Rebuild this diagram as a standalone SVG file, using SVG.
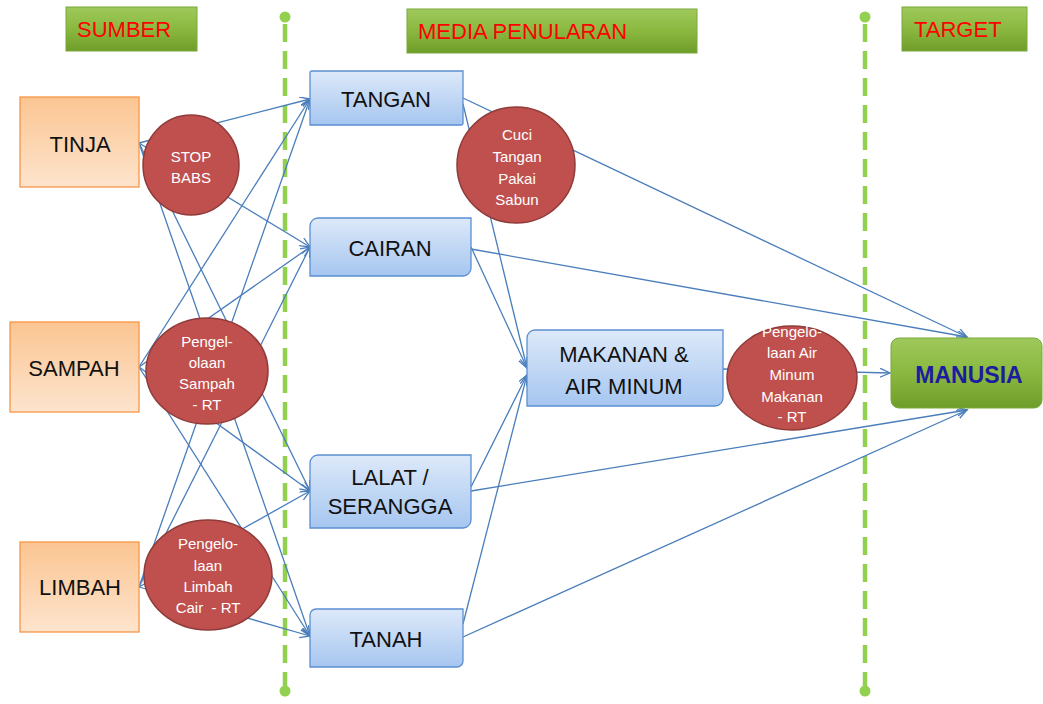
<svg xmlns="http://www.w3.org/2000/svg" width="1043" height="704" viewBox="0 0 1043 704">
<defs>
<linearGradient id="gGreen" x1="0" y1="0" x2="0" y2="1">
<stop offset="0" stop-color="#9fc95c"/><stop offset="0.5" stop-color="#8ab83f"/><stop offset="1" stop-color="#6f9d2a"/>
</linearGradient>
<linearGradient id="gOrange" x1="0" y1="0" x2="0" y2="1">
<stop offset="0" stop-color="#fbc592"/><stop offset="1" stop-color="#fde4cd"/>
</linearGradient>
<linearGradient id="gBlue" x1="0" y1="0" x2="0" y2="1">
<stop offset="0" stop-color="#dde9f9"/><stop offset="1" stop-color="#a6c6f0"/>
</linearGradient>
<marker id="arr" markerUnits="userSpaceOnUse" markerWidth="12" markerHeight="10" refX="10" refY="4.5" orient="auto">
<path d="M0,0 L10,4.5 L0,9" fill="none" stroke="#4a7ebb" stroke-width="1.3"/>
</marker>
<style>
.hdr{fill:url(#gGreen);stroke:#7aa83a;stroke-width:1}
.hdrt{font-family:"Liberation Sans",Arial,sans-serif;font-size:22px;fill:#ff0000}
.src{fill:url(#gOrange);stroke:#f79646;stroke-width:1.3}
.med{fill:url(#gBlue);stroke:#5b8fd1;stroke-width:1.3}
.lbl{font-family:"Liberation Sans",Arial,sans-serif;font-size:22px;fill:#111111;text-anchor:middle}
.bar{fill:#c0504d;stroke:#8e3b39;stroke-width:1.5}
.bt{font-family:"Liberation Sans",Arial,sans-serif;font-size:15px;fill:#ffffff;text-anchor:middle}
.dash{stroke:#92d050;stroke-width:4.5;stroke-dasharray:18 9;fill:none}
.dot{fill:#92d050}
.con line{stroke:#4a7ebb;stroke-width:1.3;fill:none;marker-end:url(#arr)}
</style>
</defs>
<rect width="1043" height="704" fill="#ffffff"/>

<g id="dividers">
<line class="dash" x1="285" y1="24" x2="285" y2="686"/>
<circle class="dot" cx="285" cy="17" r="5.5"/>
<circle class="dot" cx="285" cy="691" r="5.5"/>
<line class="dash" x1="865" y1="24" x2="865" y2="686"/>
<circle class="dot" cx="865" cy="17" r="5.5"/>
<circle class="dot" cx="865" cy="691" r="5.5"/>
</g>

<g id="hdr-sumber"><rect class="hdr" x="66" y="7" width="131" height="44"/><text class="hdrt" x="77" y="37">SUMBER</text></g>
<g id="hdr-media"><rect class="hdr" x="407" y="9" width="290" height="44"/><text class="hdrt" x="418" y="39">MEDIA PENULARAN</text></g>
<g id="hdr-target"><rect class="hdr" x="902" y="7" width="125" height="44"/><text class="hdrt" x="914" y="37">TARGET</text></g>

<g id="connectors" class="con">
<line x1="139" y1="143" x2="310" y2="99"/>
<line x1="139" y1="143" x2="310" y2="247"/>
<line x1="139" y1="143" x2="310" y2="491"/>
<line x1="139" y1="143" x2="310" y2="636"/>
<line x1="139" y1="367" x2="310" y2="99"/>
<line x1="139" y1="367" x2="310" y2="247"/>
<line x1="139" y1="367" x2="310" y2="491"/>
<line x1="139" y1="367" x2="310" y2="636"/>
<line x1="139" y1="587" x2="310" y2="99"/>
<line x1="139" y1="587" x2="310" y2="247"/>
<line x1="139" y1="587" x2="310" y2="491"/>
<line x1="139" y1="587" x2="310" y2="636"/>
<line x1="463" y1="104" x2="527" y2="368"/>
<line x1="471" y1="247" x2="527" y2="368"/>
<line x1="471" y1="487" x2="527" y2="375"/>
<line x1="463" y1="624" x2="527" y2="375"/>
<line x1="463" y1="98" x2="967" y2="337"/>
<line x1="471" y1="249" x2="967" y2="337"/>
<line x1="471" y1="491" x2="967" y2="410"/>
<line x1="463" y1="637" x2="967" y2="410"/>
<line x1="723" y1="369" x2="890" y2="373"/>
</g>

<g id="tinja"><rect class="src" x="20" y="97" width="119" height="90"/><text class="lbl" x="80" y="152">TINJA</text></g>
<g id="sampah"><rect class="src" x="10" y="322" width="129" height="90"/><text class="lbl" x="74" y="376">SAMPAH</text></g>
<g id="limbah"><rect class="src" x="20" y="542" width="119" height="90"/><text class="lbl" x="80" y="595">LIMBAH</text></g>

<g id="tangan"><path class="med" d="M312,71 H463 V123 A2,2 0 0 1 461,125 H310 V73 A2,2 0 0 1 312,71 Z"/><text class="lbl" x="386" y="107">TANGAN</text></g>
<g id="cairan"><path class="med" d="M318,218 H471 V268 A8,8 0 0 1 463,276 H310 V226 A8,8 0 0 1 318,218 Z"/><text class="lbl" x="390" y="256">CAIRAN</text></g>
<g id="lalat"><path class="med" d="M318,455 H471 V520 A8,8 0 0 1 463,528 H310 V463 A8,8 0 0 1 318,455 Z"/><text class="lbl" x="390" y="485">LALAT /</text><text class="lbl" x="390" y="514">SERANGGA</text></g>
<g id="tanah"><path class="med" d="M316,609 H463 V661 A6,6 0 0 1 457,667 H310 V615 A6,6 0 0 1 316,609 Z"/><text class="lbl" x="386" y="647">TANAH</text></g>
<g id="makanan"><path class="med" d="M535,330 H723 V398 A8,8 0 0 1 715,406 H527 V338 A8,8 0 0 1 535,330 Z"/><text class="lbl" x="624" y="362">MAKANAN &amp;</text><text class="lbl" x="624" y="394">AIR MINUM</text></g>

<g id="manusia"><rect x="891" y="338" width="151" height="70" rx="8" fill="url(#gGreen)" stroke="#7aa83a" stroke-width="1"/><text x="969" y="383" font-family="'Liberation Sans',Arial,sans-serif" font-size="23" font-weight="bold" fill="#1c1ca0" text-anchor="middle">MANUSIA</text></g>

<g id="stop-babs"><ellipse class="bar" cx="191" cy="165" rx="48" ry="50"/><text class="bt" x="191" y="162">STOP</text><text class="bt" x="191" y="183">BABS</text></g>
<g id="pengelolaan-sampah"><ellipse class="bar" cx="207" cy="371" rx="61" ry="53"/><text class="bt" x="207" y="347">Pengel-</text><text class="bt" x="207" y="368">olaan</text><text class="bt" x="207" y="389">Sampah</text><text class="bt" x="207" y="410">- RT</text></g>
<g id="pengelolaan-limbah"><ellipse class="bar" cx="208" cy="575" rx="64" ry="55"/><text class="bt" x="208" y="549">Pengelo-</text><text class="bt" x="208" y="571">laan</text><text class="bt" x="208" y="592">Limbah</text><text class="bt" x="208" y="613" xml:space="preserve">Cair  - RT</text></g>
<g id="cuci-tangan"><ellipse class="bar" cx="516" cy="165" rx="59" ry="58"/><text class="bt" x="517" y="140">Cuci</text><text class="bt" x="517" y="162">Tangan</text><text class="bt" x="517" y="184">Pakai</text><text class="bt" x="517" y="205">Sabun</text></g>
<g id="pengelolaan-air"><ellipse class="bar" cx="792" cy="378" rx="65" ry="52"/><text class="bt" x="792" y="337">Pengelo-</text><text class="bt" x="792" y="358">laan Air</text><text class="bt" x="792" y="380">Minum</text><text class="bt" x="792" y="402">Makanan</text><text class="bt" x="792" y="422">- RT</text></g>
</svg>
